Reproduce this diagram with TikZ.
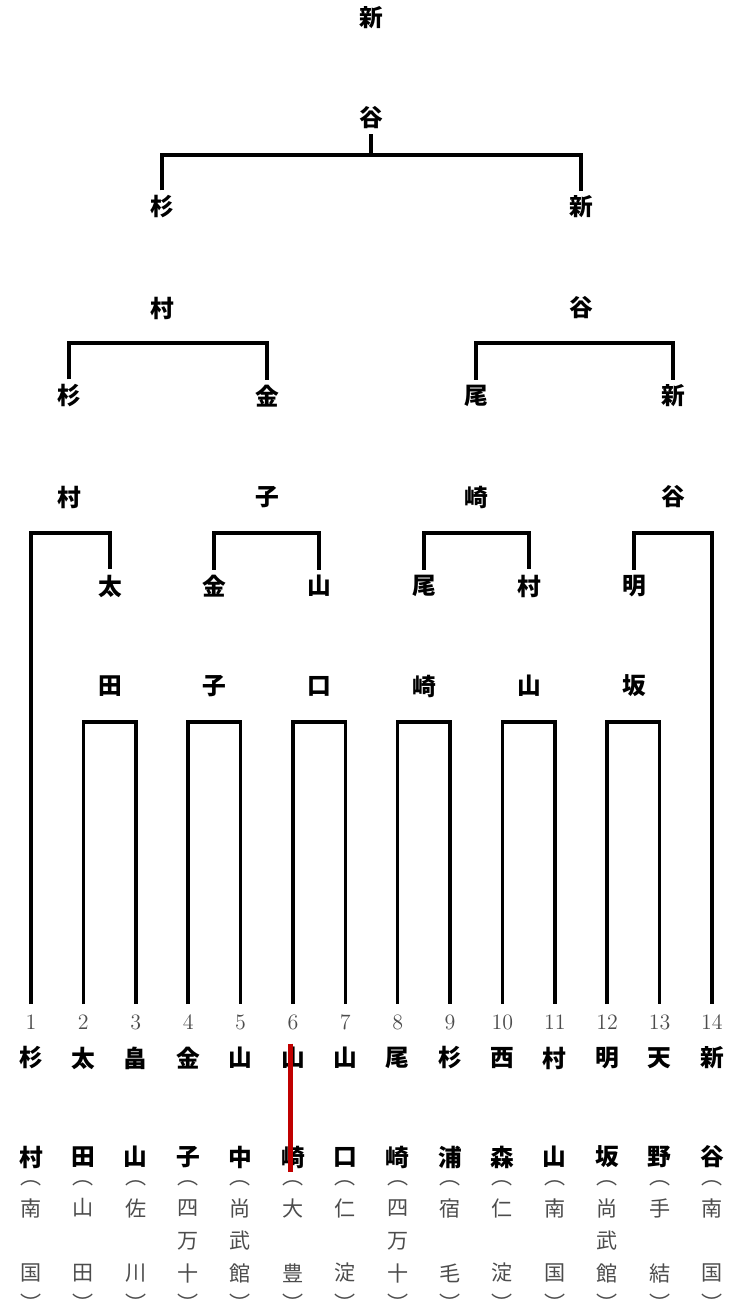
\documentclass[tikz,border=0pt]{standalone}
\usepackage{fontspec}
\usepackage{tikz}
\usetikzlibrary{calc}
\newfontfamily\jpfont{Noto Sans CJK JP}
\definecolor{markred}{RGB}{192,0,0}
\tikzstyle{winner} = [font=\jpfont\bfseries\fontsize{13.5}{16}\selectfont, inner sep=3pt, outer sep=0pt]
\tikzstyle{player} = [font=\jpfont\bfseries\fontsize{13.5}{16}\selectfont, inner sep=3pt]
\tikzstyle{school} = [font=\jpfont\fontsize{12}{14}\selectfont, text=black!70, inner sep=1pt]
\tikzstyle{seed} = [font=\fontsize{12.5}{14}\selectfont, text=black!70, inner sep=3pt, outer sep=3pt]
\tikzstyle{bracket} = [line width=2pt]
\tikzstyle{redbar} = [line width=2.8pt, draw=markred, shorten <=0.04cm, shorten >=0.04cm]

\begin{document}
\begin{tikzpicture}[x=0.02cm, y=-0.02cm]

        \useasboundingbox (0,0) rectangle (742,1311);

        % entries: seed / surname / school
        \foreach \i/\sa/\sb/\ka/\kb/\kc in {1/杉/村/南//国, 2/太/田/山//田, 3/畠/山/佐//川, 4/金/子/四/万/十,
                5/山/中/尚/武/館, 6/山/崎/大//豊, 7/山/口/仁//淀, 8/尾/崎/四/万/十,
                9/杉/浦/宿//毛, 10/西/森/仁//淀, 11/村/山/南//国, 12/明/坂/尚/武/館,
                13/天/野/手//結, 14/新/谷/南//国} {
            \node (n\i) [seed] at ({31+52.38*(\i-1)},1022) {\i};
            \node (sa\i) [player] at ({31+52.38*(\i-1)},1058) {\sa};
            \node (sb\i) [player] at ({31+52.38*(\i-1)},1157) {\sb};
            \node (po\i) [school] at ({31+52.38*(\i-1)},1183) {︵};
            \node (ka\i) [school] at ({31+52.38*(\i-1)},1208) {\ka};
            \node (kb\i) [school] at ({31+52.38*(\i-1)},1241) {\kb};
            \node (kc\i) [school] at ({31+52.38*(\i-1)},1273) {\kc};
            \node (pc\i) [school] at ({31+52.38*(\i-1)},1303) {︶};
        }

        % bracket levels
        \coordinate (lv1) at (0,722);
        \coordinate (lv2) at (0,533);
        \coordinate (lv3) at (0,343);
        \coordinate (lv4) at (0,155);

        % first round winners
        \node (qa1) [winner] at (110,586) {太};
        \node (qb1) [winner] at (110,686) {田};
        \node (qa2) [winner] at (214,586) {金};
        \node (qb2) [winner] at (214,686) {子};
        \node (qa3) [winner] at (319,586) {山};
        \node (qb3) [winner] at (319,686) {口};
        \node (qa4) [winner] at (424,586) {尾};
        \node (qb4) [winner] at (424,686) {崎};
        \node (qa5) [winner] at (529,586) {村};
        \node (qb5) [winner] at (529,686) {山};
        \node (qa6) [winner] at (634,586) {明};
        \node (qb6) [winner] at (634,686) {坂};

        % second round winners
        \node (ra1) [winner] at (69,396) {杉};
        \node (rb1) [winner] at (69,497) {村};
        \node (ra2) [winner] at (267,396) {金};
        \node (rb2) [winner] at (267,497) {子};
        \node (ra3) [winner] at (476,396) {尾};
        \node (rb3) [winner] at (476,497) {崎};
        \node (ra4) [winner] at (673,396) {新};
        \node (rb4) [winner] at (673,497) {谷};

        % semi final winners
        \node (sfa1) [winner] at (162,207) {杉};
        \node (sfb1) [winner] at (162,308) {村};
        \node (sfa2) [winner] at (581,207) {新};
        \node (sfb2) [winner] at (581,308) {谷};

        % champion
        \node (cha) [winner] at (371,18) {新};
        \node (chb) [winner] at (371,118) {谷};

        \draw[bracket] (n2.north) -- (n2 |- lv1) -- (n3 |- lv1) -- (n3.north);
        \draw[bracket] (n4.north) -- (n4 |- lv1) -- (n5 |- lv1) -- (n5.north);
        \draw[bracket] (n6.north) -- (n6 |- lv1) -- (n7 |- lv1) -- (n7.north);
        \draw[bracket] (n8.north) -- (n8 |- lv1) -- (n9 |- lv1) -- (n9.north);
        \draw[bracket] (n10.north) -- (n10 |- lv1) -- (n11 |- lv1) -- (n11.north);
        \draw[bracket] (n12.north) -- (n12 |- lv1) -- (n13 |- lv1) -- (n13.north);

        \draw[bracket] (n1.north) -- (n1 |- lv2) -- (qa1 |- lv2) -- (qa1.north);
        \draw[bracket] (qa2.north) -- (qa2 |- lv2) -- (qa3 |- lv2) -- (qa3.north);
        \draw[bracket] (qa4.north) -- (qa4 |- lv2) -- (qa5 |- lv2) -- (qa5.north);
        \draw[bracket] (qa6.north) -- (qa6 |- lv2) -- (n14 |- lv2) -- (n14.north);

        \draw[bracket] (ra1.north) -- (ra1 |- lv3) -- (ra2 |- lv3) -- (ra2.north);
        \draw[bracket] (ra3.north) -- (ra3 |- lv3) -- (ra4 |- lv3) -- (ra4.north);

        \draw[bracket] (sfa1.north) -- (sfa1 |- lv4) -- (sfa2 |- lv4) -- (sfa2.north);
        \draw[bracket] (chb.south) -- (chb |- lv4);

        \draw[redbar] ([xshift=-0.04cm]sa6.north) -- ([xshift=-0.04cm]sb6.south);

    \end{tikzpicture}
\end{document}
